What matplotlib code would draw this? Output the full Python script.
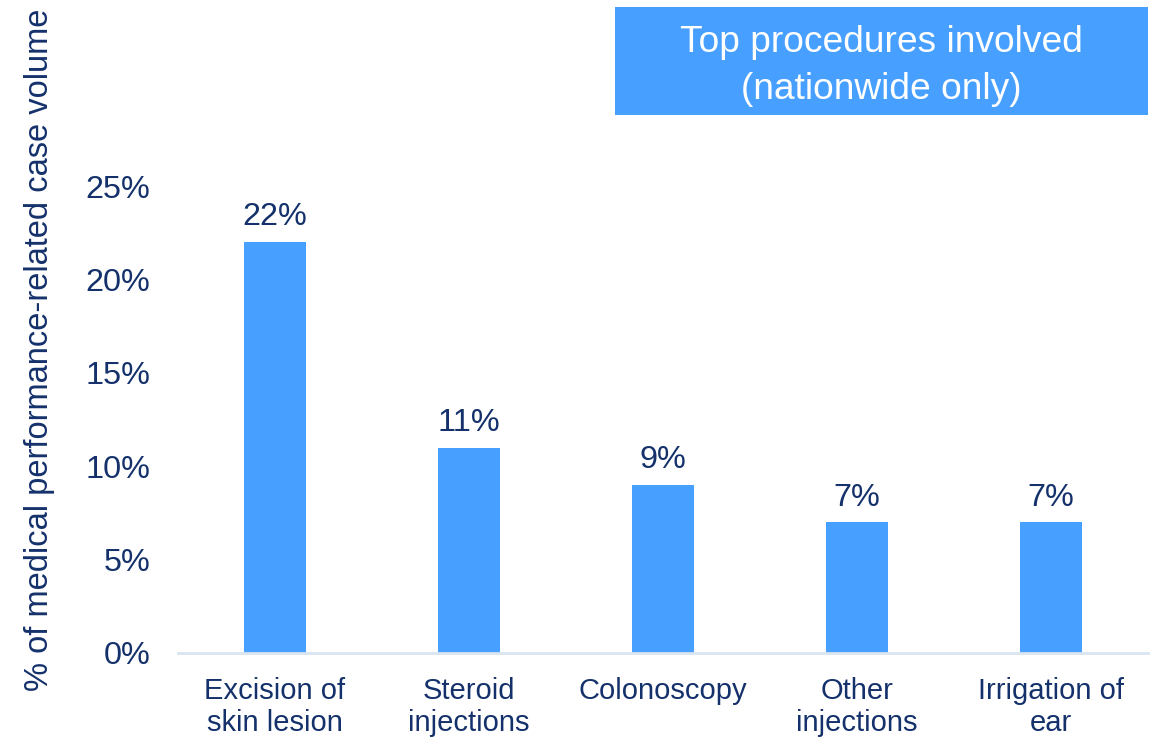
import matplotlib
matplotlib.use("Agg")
import matplotlib.pyplot as plt
from matplotlib.patches import Rectangle

categories = ["Excision of\nskin lesion", "Steroid\ninjections", "Colonoscopy",
              "Other\ninjections", "Irrigation of\near"]
values = [22, 11, 9, 7, 7]
yticks = [0, 5, 10, 15, 20, 25]
title_text = "Top procedures involved\n(nationwide only)"
ylabel_text = "% of medical performance-related case volume"

BAR = "#479FFF"
TEXT = "#14316B"
AXIS = "#D9E5F0"

plt.rcParams["font.family"] = ["Liberation Sans", "DejaVu Sans"]

W, H = 1153, 743
fig = plt.figure(figsize=(W / 100, H / 100), dpi=100)
ax = fig.add_axes([178 / W, 1 - 653 / H, (1148 - 178) / W, (653 - 186) / H])

x = list(range(len(categories)))
bars = ax.bar(x, values, width=0.32, color=BAR, zorder=2)
ax.set_xlim(-0.5, len(categories) - 0.5)
ax.set_ylim(0, 25)
ax.set_yticks(yticks)
ax.set_yticklabels([f"{v}%" for v in yticks], fontsize=23.3, color=TEXT)
ax.set_xticks(x)
ax.set_xticklabels(categories, fontsize=21, color=TEXT, linespacing=1.22)
ax.tick_params(axis="y", length=0, pad=20)
ax.tick_params(axis="x", length=0, pad=17)

for s in ["top", "right", "left"]:
    ax.spines[s].set_visible(False)
ax.spines["bottom"].set_color(AXIS)
ax.spines["bottom"].set_linewidth(2)

for b, v in zip(bars, values):
    ax.annotate(f"{v}%", (b.get_x() + b.get_width() / 2, v), xytext=(0, 7),
                textcoords="offset points", ha="center", va="bottom",
                fontsize=23.3, color=TEXT)

fig.text(40 / W, 1 - 350 / H, ylabel_text, rotation=90, ha="center", va="center",
         fontsize=23.5, color=TEXT)

fig.patches.append(Rectangle((615 / W, 1 - 115 / H), (1148 - 615) / W, 108 / H,
                             transform=fig.transFigure, facecolor=BAR, edgecolor="none"))
fig.text((615 + 1148) / 2 / W, 1 - 66 / H, title_text, ha="center", va="center",
         fontsize=26.7, color="white", linespacing=1.45)

fig.savefig("out.png", dpi=100)
